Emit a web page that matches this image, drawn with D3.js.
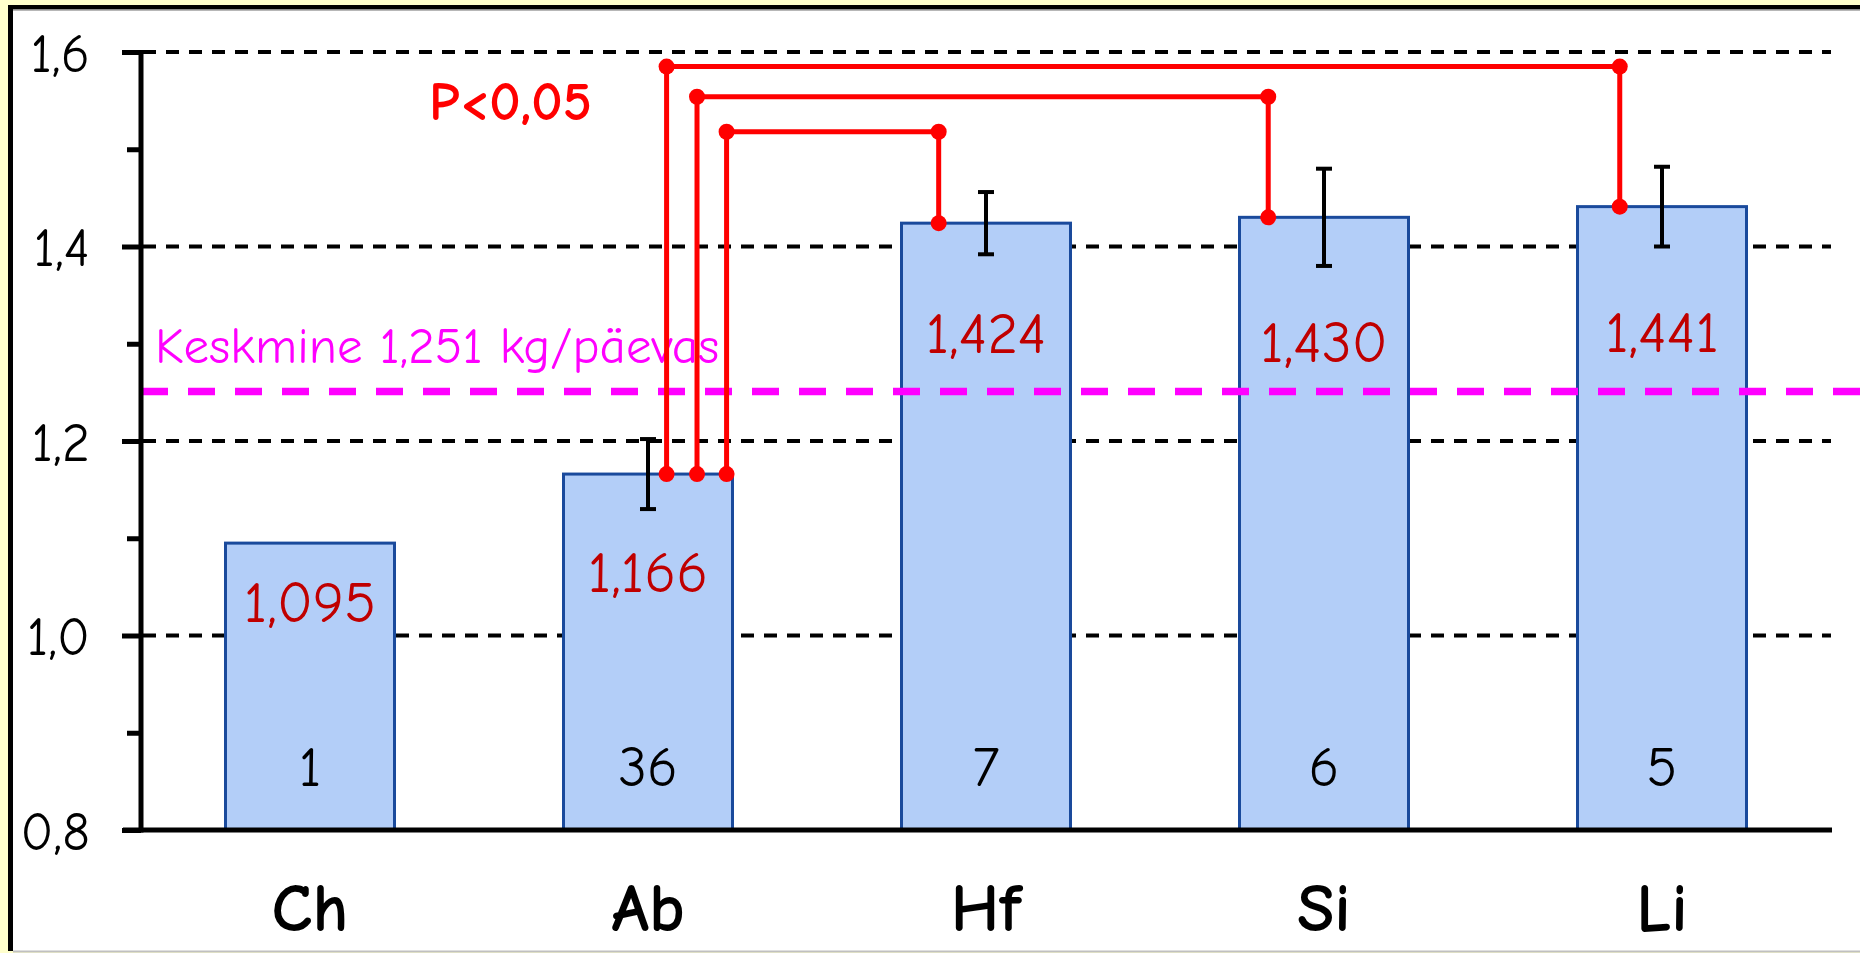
<!DOCTYPE html>
<html>
<head>
<meta charset="utf-8">
<script src="https://cdn.jsdelivr.net/npm/d3@7"></script>
<style>
  html, body { margin: 0; padding: 0; background: #ffffcc; }
  svg { display: block; }
  text { font-family: "Comic Sans MS", "Comic Neue", "Open Sans", sans-serif; }
</style>
</head>
<body>
<svg id="chart" width="1860" height="953"></svg>
<script>
// Average daily gain per group (kg/päevas)
const categories = ["Ch", "Ab", "Hf", "Si", "Li"];
const means = [1.095, 1.166, 1.424, 1.430, 1.441];
const errors = [null, 0.036, 0.032, 0.050, 0.041];
const counts = [1, 36, 7, 6, 5];
const overallMean = 1.251;
const yTicks = [0.8, 1.0, 1.2, 1.4, 1.6];
const yMinorTicks = [0.9, 1.1, 1.3, 1.5];
const gridValues = [1.0, 1.2, 1.4, 1.6];
// Significant differences (P<0,05): pair and height of the connector
const compFrom = ["Ab", "Ab", "Ab"];
const compTo = ["Hf", "Si", "Li"];
const compLevel = [1.518, 1.554, 1.585];

// layout
const W = 1860, H = 953;
const plot = { left: 141, right: 1831, top: 52, bottom: 830 };
const valueLabelDrop = [79, 118, 130, 145, 145];
const leftLegFrac = [0.965, 0.79, 0.61];
const rightLegFrac = [0.22, 0.17, 0.25];

const svg = d3.select("#chart");
const comma = v => d3.format(".1f")(v).replace(".", ",");
const comma3 = v => d3.format(".3f")(v).replace(".", ",");

// frame
svg.append("rect").attr("width", W).attr("height", H).attr("fill", "#ffffcc");
svg.append("rect").attr("x", 13).attr("y", 9).attr("width", W - 13).attr("height", 942).attr("fill", "#ffffff");
svg.append("rect").attr("x", 8).attr("y", 5).attr("width", W - 8).attr("height", 4.5).attr("fill", "#000");
svg.append("rect").attr("x", 8).attr("y", 5).attr("width", 5).attr("height", 946).attr("fill", "#000");
svg.append("rect").attr("x", 13).attr("y", 9.5).attr("width", W - 13).attr("height", 1.2).attr("fill", "#999");
svg.append("rect").attr("x", 13).attr("y", 950.5).attr("width", W - 13).attr("height", 2).attr("fill", "#c0c0c0");

const x = d3.scaleBand().domain(categories)
  .range([plot.left, plot.right]).paddingInner(0.5).paddingOuter(0.25);
const y = d3.scaleLinear().domain([0.8, 1.6]).range([plot.bottom, plot.top]);
const bw = x.bandwidth();

// dashed gridlines
svg.append("g").selectAll("line").data(gridValues).join("line")
  .attr("x1", plot.left + 2).attr("x2", plot.right)
  .attr("y1", d => y(d)).attr("y2", d => y(d))
  .attr("stroke", "#000").attr("stroke-width", 4)
  .attr("stroke-dasharray", "13,10");

// bars
const rows = categories.map((c, i) => ({ c, i, v: means[i], e: errors[i], n: counts[i] }));
svg.append("g").selectAll("rect").data(rows).join("rect")
  .attr("x", d => x(d.c)).attr("y", d => y(d.v))
  .attr("width", bw).attr("height", d => y(0.8) - y(d.v))
  .attr("fill", "#b3cef8").attr("stroke", "#1a4a9c").attr("stroke-width", 3);

// overall mean line and label
svg.append("line")
  .attr("x1", plot.left).attr("x2", W)
  .attr("y1", y(overallMean)).attr("y2", y(overallMean))
  .attr("stroke", "#ff00ff").attr("stroke-width", 7.5)
  .attr("stroke-dasharray", "27,20");
svg.append("text")
  .attr("x", 155).attr("y", y(overallMean) - 28)
  .attr("fill", "#ff00ff").style("font-size", "51px")
  .text("Keskmine " + comma3(overallMean) + " kg/päevas");

// value labels inside bars
svg.append("g").selectAll("text").data(rows).join("text")
  .attr("x", d => x(d.c) + bw / 2).attr("y", d => y(d.v) + valueLabelDrop[d.i])
  .attr("text-anchor", "middle").attr("fill", "#c00000").style("font-size", "59px")
  .text(d => comma3(d.v));

// group sizes
svg.append("g").selectAll("text").data(rows).join("text")
  .attr("x", d => x(d.c) + bw / 2).attr("y", 786)
  .attr("text-anchor", "middle").attr("fill", "#000").style("font-size", "57px")
  .text(d => d.n);

// error bars
const eb = svg.append("g").attr("stroke", "#000").attr("stroke-width", 4);
rows.filter(d => d.e != null).forEach(d => {
  const cx = x(d.c) + bw / 2;
  eb.append("line").attr("x1", cx).attr("x2", cx).attr("y1", y(d.v + d.e)).attr("y2", y(d.v - d.e));
  [d.v + d.e, d.v - d.e].forEach(t => eb.append("line")
    .attr("x1", cx - 8).attr("x2", cx + 8).attr("y1", y(t)).attr("y2", y(t)));
});

// y axis
const yAxis = svg.append("g").attr("transform", `translate(${plot.left},0)`)
  .call(d3.axisLeft(y).tickValues(yTicks).tickSize(19).tickPadding(32).tickFormat(comma));
yAxis.select(".domain").remove();
yAxis.selectAll(".tick line").attr("stroke", "#000").attr("stroke-width", 5);
yAxis.selectAll(".tick text").attr("fill", "#000").attr("dy", "0.36em")
  .style("font-size", "54px");
const yMinor = svg.append("g").attr("transform", `translate(${plot.left},0)`)
  .call(d3.axisLeft(y).tickValues(yMinorTicks).tickSize(14).tickFormat(""));
yMinor.select(".domain").remove();
yMinor.selectAll(".tick line").attr("stroke", "#000").attr("stroke-width", 5);
svg.append("line").attr("x1", plot.left).attr("x2", plot.left)
  .attr("y1", plot.top - 2).attr("y2", plot.bottom + 2.5)
  .attr("stroke", "#000").attr("stroke-width", 5);

// x axis
svg.append("line").attr("x1", 123).attr("x2", plot.right + 1)
  .attr("y1", plot.bottom).attr("y2", plot.bottom)
  .attr("stroke", "#000").attr("stroke-width", 5);
const xAxis = svg.append("g").attr("transform", `translate(0,${plot.bottom})`)
  .call(d3.axisBottom(x).tickSize(0));
xAxis.select(".domain").remove();
xAxis.selectAll(".tick text").attr("y", 101).attr("dy", 0)
  .attr("font-weight", "bold").attr("fill", "#000")
  .style("font-size", "68px");

// significance connectors
const sig = svg.append("g");
compFrom.forEach((f, k) => {
  const i0 = categories.indexOf(f), i1 = categories.indexOf(compTo[k]);
  const x0 = x(f) + bw * leftLegFrac[k];
  const x1 = x(compTo[k]) + bw * rightLegFrac[k];
  const yTop = y(compLevel[k]);
  const pts = [[x0, y(means[i0])], [x0, yTop], [x1, yTop], [x1, y(means[i1])]];
  sig.append("path").attr("d", d3.line()(pts))
    .attr("fill", "none").attr("stroke", "#ff0000").attr("stroke-width", 5);
  sig.selectAll(null).data(pts).join("circle")
    .attr("cx", p => p[0]).attr("cy", p => p[1]).attr("r", 8).attr("fill", "#ff0000");
});
svg.append("text").attr("x", 429).attr("y", 120)
  .attr("fill", "#ff0000").attr("font-weight", "bold").style("font-size", "55px")
  .text("P<0,05");
</script>
</body>
</html>
